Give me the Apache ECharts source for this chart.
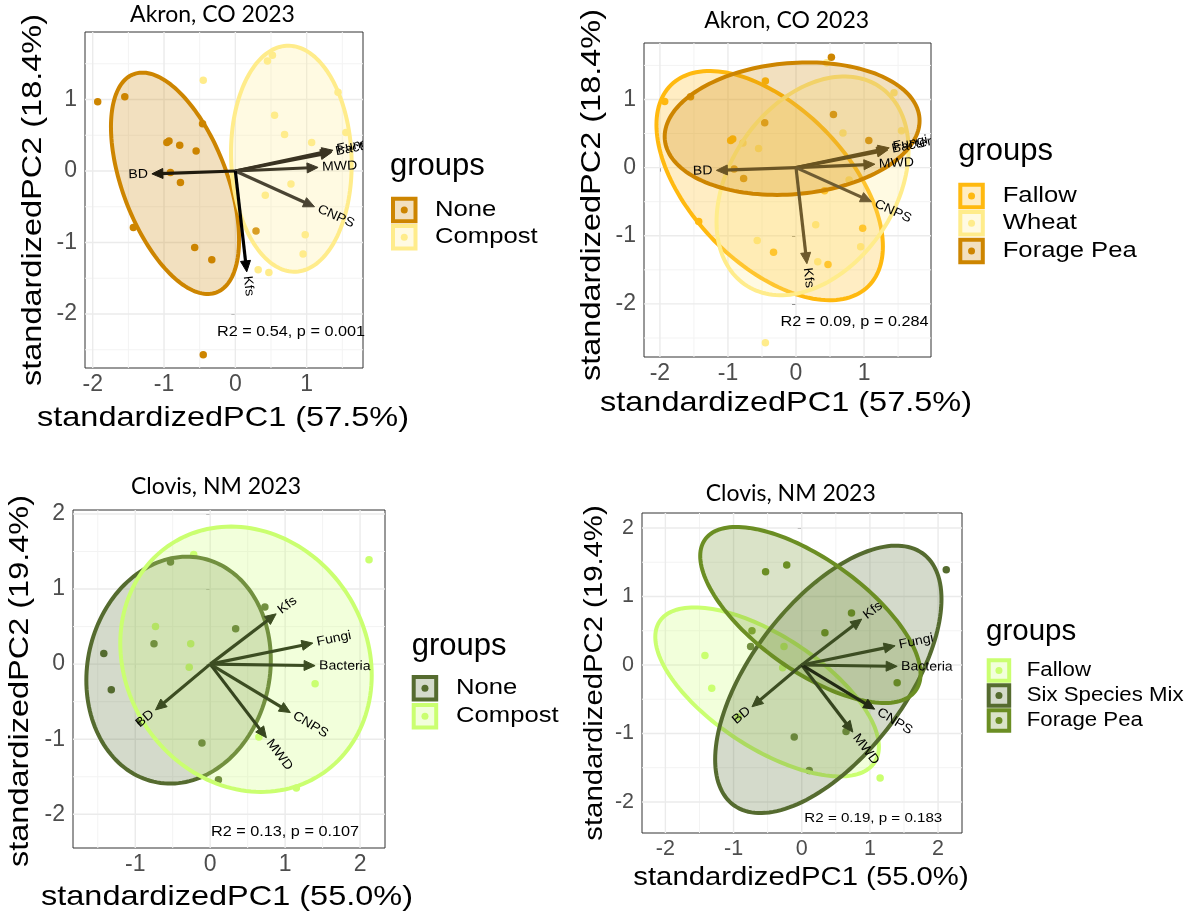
<!DOCTYPE html>
<html><head><meta charset="utf-8">
<script src="https://cdn.jsdelivr.net/npm/echarts@6/dist/echarts.min.js"></script>
<style>html,body{margin:0;padding:0;background:#fff}#chart{width:1199px;height:919px}</style>
</head><body><div id="chart"></div>
<script>
// ---------------- data ----------------
const akronPC1 = [-1.93,-1.55,-0.45,0.45,0.52,1.44,0.55,0.69,1.07,1.55,0.78,0.42,0.98,0.95,0.32,0.47,-0.46,-0.96,-0.93,-0.78,-0.55,-0.91,-0.77,-1.43,-0.57,-0.33,-0.45,0.29];
const akronPC2 = [0.97,1.04,1.27,1.54,1.62,1.10,0.78,0.51,0.40,0.54,-0.18,-0.34,-0.89,-1.16,-1.38,-1.42,0.66,0.40,0.42,0.36,0.28,-0.02,-0.16,-0.79,-1.07,-1.24,-2.57,-0.84];
const akronAmend = ['None','None','Compost','Compost','Compost','Compost','Compost','Compost','Compost','Compost','Compost','Compost','Compost','Compost','Compost','Compost','None','None','None','None','None','None','None','None','None','None','None','None'];
const akronCrop = ['Fallow','Forage Pea','Fallow','Wheat','Forage Pea','Wheat','Forage Pea','Wheat','Forage Pea','Wheat','Wheat','Fallow','Fallow','Wheat','Wheat','Fallow','Forage Pea','Fallow','Fallow','Wheat','Wheat','Forage Pea','Forage Pea','Fallow','Wheat','Fallow','Wheat','Wheat'];

const clovisPC1 = [-1.42,-1.32,-0.53,-0.75,0.34,0.73,-0.11,-0.93,0.11,-0.22,2.12,-0.73,-0.26,-0.28,1.40,0.65,1.15];
const clovisPC2 = [0.14,-0.34,1.36,0.27,0.47,0.76,-1.05,-0.76,-1.54,1.46,1.39,0.50,0.27,-0.04,-0.26,-0.97,-1.65];
const clovisAmend = ['None','None','None','None','None','None','None','None','None','Compost','Compost','Compost','Compost','Compost','Compost','Compost','Compost'];
const clovisCrop = ['Fallow','Fallow','Forage Pea','Six Species Mix','Forage Pea','Forage Pea','Six Species Mix','Fallow','Six Species Mix','Forage Pea','Six Species Mix','Forage Pea','Fallow','Fallow','Forage Pea','Six Species Mix','Fallow'];

// ellipse parameters: [centre PC1, centre PC2, half-width, half-height, correlation]
const akronAmendGroups = ['None','Compost'];
const akronAmendEllipses = [[-0.846,-0.172,0.898,1.548,-0.51],[0.785,0.172,0.846,1.58,-0.05]];
const akronCropGroups = ['Fallow','Wheat','Forage Pea'];
const akronCropEllipses = [[-0.387,-0.264,1.664,1.682,-0.53],[0.243,-0.267,1.411,1.605,0.33],[-0.057,0.572,1.873,0.972,0.12]];
const clovisAmendGroups = ['None','Compost'];
const clovisAmendEllipses = [[-0.422,-0.08,1.231,1.511,0.09],[0.478,0.065,1.678,1.767,-0.12]];
const clovisCropGroups = ['Fallow','Six Species Mix','Forage Pea'];
const clovisCropEllipses = [[-0.508,-0.393,1.64,1.234,-0.65],[0.39,-0.21,1.66,1.952,0.6],[0.127,0.73,1.616,1.285,-0.67]];

// loadings
const loadVars = ['BD','Bacteria','Fungi','MWD','CNPS','Kfs'];
const akronLoadPC1 = [-1.17,1.35,1.37,1.16,1.11,0.16];
const akronLoadPC2 = [-0.04,0.26,0.29,0.05,-0.50,-1.41];
const clovisLoadPC1 = [-0.73,1.40,1.37,0.75,1.07,0.88];
const clovisLoadPC2 = [-0.61,-0.02,0.28,-0.98,-0.645,0.67];

// ticks and breaks
const akronXTicks = [-2,-1,0,1];
const akronYTicks = [-2,-1,0,1];
const clovisXTicksL = [-1,0,1,2];
const clovisXTicksR = [-2,-1,0,1,2];
const clovisYTicks = [-2,-1,0,1,2];
const minorAkronX = [-1.5,-0.5,0.5,1.5];
const minorAkronY = [-2.5,-1.5,-0.5,0.5,1.5];
const minorClovisXL = [-1.5,-0.5,0.5,1.5];
const minorClovisXR = [-1.5,-0.5,0.5,1.5];
const minorClovisY = [-1.5,-0.5,0.5,1.5];

const panelTitles = ['Akron, CO 2023','Akron, CO 2023','Clovis, NM 2023','Clovis, NM 2023'];
const xTitles = ['standardizedPC1 (57.5%)','standardizedPC1 (57.5%)','standardizedPC1 (55.0%)','standardizedPC1 (55.0%)'];
const yTitles = ['standardizedPC2 (18.4%)','standardizedPC2 (18.4%)','standardizedPC2 (19.4%)','standardizedPC2 (19.4%)'];
const statLabels = ['R2 = 0.54, p = 0.001','R2 = 0.09, p = 0.284','R2 = 0.13, p = 0.107','R2 = 0.19, p = 0.183'];

// ---------------- styles ----------------
const COL = {
  ak: {'None':'#CD8500','Compost':'#FFEC8B','Fallow':'#FFB90F','Wheat':'#FFEC8B','Forage Pea':'#CD8500'},
  cl: {'None':'#556B2F','Compost':'#CAFF70','Fallow':'#CAFF70','Six Species Mix':'#556B2F','Forage Pea':'#6B8E23'}
};
const arrowCols = [
  ['#1f1a0e','#3a3322','#3a3322','#3f3928','#4a4433','#000000'],
  ['#6b5525','#69531f','#69531f','#6a5523','#6e5c33','#6e5a2c'],
  ['#3c4d22','#3c4d22','#3c4d22','#36451f','#3c4d22','#3c4d22'],
  ['#3c4d22','#3c4d22','#3c4d22','#36451f','#222a14','#3c4d22']
];
const FONT = "'Liberation Sans', Arial, sans-serif";
const grids = [
  {left:85, top:32, width:278, height:336},
  {left:644, top:43, width:287, height:314},
  {left:73, top:510, width:312, height:338},
  {left:642, top:513, width:320, height:320}
];
const ranges = [
  {x:[-2.108,1.79], y:[-2.755,1.944]},
  {x:[-2.234,1.984], y:[-2.779,1.829]},
  {x:[-1.831,2.333], y:[-2.449,2.053]},
  {x:[-2.343,2.351], y:[-2.453,2.219]}
];

function rgba(hex, a){
  const n = parseInt(hex.slice(1),16);
  return 'rgba('+((n>>16)&255)+','+((n>>8)&255)+','+(n&255)+','+a+')';
}

const series = [];

function gridLines(gi, xMaj, xMin, yMaj, yMin){
  const data = [];
  xMin.forEach(v=>data.push([v,0,0]));
  yMin.forEach(v=>data.push([v,1,0]));
  xMaj.forEach(v=>data.push([v,0,1]));
  yMaj.forEach(v=>data.push([v,1,1]));
  series.push({
    type:'custom', xAxisIndex:gi, yAxisIndex:gi, z:1, silent:true, data:data,
    renderItem:function(p, api){
      const cs = p.coordSys;
      const v = api.value(0), dir = api.value(1), maj = api.value(2);
      let shape;
      if (dir === 0) { const x = api.coord([v, 0])[0]; shape = {x1:x, y1:cs.y, x2:x, y2:cs.y+cs.height}; }
      else { const y = api.coord([0, v])[1]; shape = {x1:cs.x, y1:y, x2:cs.x+cs.width, y2:y}; }
      return {type:'line', shape:shape, style:{stroke: maj ? '#EBEBEB' : '#F3F3F3', lineWidth: maj ? 1.4 : 1}};
    }
  });
}

function points(gi, xs, ys, groups, grpNames, colMap){
  grpNames.forEach(g=>{
    const d = [];
    xs.forEach((x,i)=>{ if (groups[i] === g) d.push([x, ys[i]]); });
    series.push({type:'scatter', xAxisIndex:gi, yAxisIndex:gi, z:2, symbolSize:7.5, silent:true,
      itemStyle:{color:colMap[g], opacity:1}, data:d});
  });
}

function ellipses(gi, grpNames, params, colMap){
  grpNames.forEach((g,k)=>{
    series.push({
      type:'custom', xAxisIndex:gi, yAxisIndex:gi, z:3, clip:true, silent:true,
      data:[params[k]],
      renderItem:function(p, api){
        const cx = api.value(0), cy = api.value(1), w = api.value(2), h = api.value(3), r = api.value(4);
        const s = Math.sqrt(1 - r*r);
        const pts = [];
        for (let i = 0; i < 160; i++) {
          const t = i / 160 * Math.PI * 2;
          pts.push(api.coord([cx + w*Math.cos(t), cy + h*(r*Math.cos(t) + s*Math.sin(t))]));
        }
        return {type:'polygon', shape:{points:pts}, style:{fill:rgba(colMap[g],0.25), stroke:colMap[g], lineWidth:4}};
      }
    });
  });
}

function arrows(gi, lx, ly, cols){
  series.push({
    type:'custom', xAxisIndex:gi, yAxisIndex:gi, z:5, clip:true, silent:true,
    data: loadVars.map((n,i)=>[lx[i], ly[i], i]),
    renderItem:function(p, api){
      const i = api.value(2);
      const o = api.coord([0,0]), e = api.coord([api.value(0), api.value(1)]);
      const dx = e[0]-o[0], dy = e[1]-o[1], L = Math.hypot(dx,dy);
      const ux = dx/L, uy = dy/L;
      const hl = 11, hw = 5;
      const bx = e[0]-ux*hl, by = e[1]-uy*hl;
      const col = cols[i];
      const rot = Math.atan(-dy/dx);
      const gap = 4;
      return {type:'group', children:[
        {type:'line', shape:{x1:o[0], y1:o[1], x2:bx+ux*3, y2:by+uy*3}, style:{stroke:col, lineWidth:3.2, lineCap:'butt'}},
        {type:'polygon', shape:{points:[[e[0],e[1]],[bx-uy*hw, by+ux*hw],[bx+uy*hw, by-ux*hw]]}, style:{fill:col, stroke:col, lineWidth:1}},
        {type:'text', x:e[0]+ux*gap, y:e[1]+uy*gap, rotation:rot, scaleX:1.08,
          style:{text:loadVars[i], fill:'#000', font:'13px '+FONT, align: dx >= 0 ? 'left' : 'right', verticalAlign:'middle'}}
      ]};
    }
  });
}

// panel 1
gridLines(0, akronXTicks, minorAkronX, akronYTicks, minorAkronY);
points(0, akronPC1, akronPC2, akronAmend, akronAmendGroups, COL.ak);
ellipses(0, akronAmendGroups, akronAmendEllipses, COL.ak);
arrows(0, akronLoadPC1, akronLoadPC2, arrowCols[0]);
// panel 2
gridLines(1, akronXTicks, minorAkronX, akronYTicks, minorAkronY);
points(1, akronPC1, akronPC2, akronCrop, akronCropGroups, COL.ak);
ellipses(1, akronCropGroups, akronCropEllipses, COL.ak);
arrows(1, akronLoadPC1, akronLoadPC2, arrowCols[1]);
// panel 3
gridLines(2, clovisXTicksL, minorClovisXL, clovisYTicks, minorClovisY);
points(2, clovisPC1, clovisPC2, clovisAmend, clovisAmendGroups, COL.cl);
ellipses(2, clovisAmendGroups, clovisAmendEllipses, COL.cl);
arrows(2, clovisLoadPC1, clovisLoadPC2, arrowCols[2]);
// panel 4
gridLines(3, clovisXTicksR, minorClovisXR, clovisYTicks, minorClovisY);
points(3, clovisPC1, clovisPC2, clovisCrop, clovisCropGroups, COL.cl);
ellipses(3, clovisCropGroups, clovisCropEllipses, COL.cl);
arrows(3, clovisLoadPC1, clovisLoadPC2, arrowCols[3]);

const xTickSets = [akronXTicks, akronXTicks, clovisXTicksL, clovisXTicksR];
const yTickSets = [akronYTicks, akronYTicks, clovisYTicks, clovisYTicks];
const tickFont = [23, 23, 23, 21.5];

const xAxes = ranges.map((r,i)=>({
  gridIndex:i, type:'value', min:r.x[0], max:r.x[1],
  axisLine:{show:false},
  axisTick:{show:true, length:4, lineStyle:{color:'#333333', width:1}, customValues:xTickSets[i]},
  axisLabel:{show:true, customValues:xTickSets[i], color:'#4D4D4D', fontSize:tickFont[i], fontFamily:FONT, margin:5},
  splitLine:{show:false}
}));
const yAxes = ranges.map((r,i)=>({
  gridIndex:i, type:'value', min:r.y[0], max:r.y[1],
  axisLine:{show:false},
  axisTick:{show:true, length:4, lineStyle:{color:'#333333', width:1}, customValues:yTickSets[i]},
  axisLabel:{show:true, customValues:yTickSets[i], color:'#4D4D4D', fontSize:tickFont[i], fontFamily:FONT, margin:8},
  splitLine:{show:false}
}));

// ---------------- text / legend graphics ----------------
const graphic = [];
const titlePos = [[212.5,15],[786.7,20.7],[216,486.7],[790.7,493.3]];
const xTitlePos = [[223,418],[786,403],[227,897],[801,878]];
const yTitlePos = [[33,200],[592,195],[20,681],[595,673]];
const axisTitleFont = [28.5, 28.5, 28.5, 25.7];
const statPos = [[291,331.7],[854.5,321.7],[285,831.7],[873.3,818.3]];
const statSize = [14.5,14.5,14.5,13.5];
const SX = 1.14;
for (let i = 0; i < 4; i++) {
  graphic.push({type:'text', x:titlePos[i][0], y:titlePos[i][1], style:{text:panelTitles[i], font:'23px Lato', fill:'#000', align:'center', verticalAlign:'middle'}});
  graphic.push({type:'text', x:xTitlePos[i][0], y:xTitlePos[i][1], scaleX:SX, style:{text:xTitles[i], font:axisTitleFont[i]+'px '+FONT, fill:'#000', align:'center', verticalAlign:'middle'}});
  graphic.push({type:'text', x:yTitlePos[i][0], y:yTitlePos[i][1], rotation:Math.PI/2, scaleX:SX, style:{text:yTitles[i], font:axisTitleFont[i]+'px '+FONT, fill:'#000', align:'center', verticalAlign:'middle'}});
  graphic.push({type:'text', x:statPos[i][0], y:statPos[i][1], z:100, scaleX:1.12, style:{text:statLabels[i], font:statSize[i]+'px '+FONT, fill:'#000', align:'center', verticalAlign:'middle'}});
}
const legends = [
  {names:akronAmendGroups, cols:COL.ak, title:[390,166.7], keyX:391, keyY:[196.7,224], size:26.5, textX:435, fs:22.5, tf:31},
  {names:akronCropGroups, cols:COL.ak, title:[958.3,151.7], keyX:958.3, keyY:[182.7,210,237.7], size:26.5, textX:1002.7, fs:22.5, tf:31},
  {names:clovisAmendGroups, cols:COL.cl, title:[411.7,646.7], keyX:411.7, keyY:[675,703], size:26.5, textX:456, fs:22.5, tf:31},
  {names:clovisCropGroups, cols:COL.cl, title:[986,631.7], keyX:986.7, keyY:[658.3,683.3,708.3], size:24.5, textX:1026.7, fs:19.5, tf:29.5}
];
legends.forEach(L=>{
  graphic.push({type:'text', x:L.title[0], y:L.title[1], style:{text:'groups', font:L.tf+'px '+FONT, fill:'#000', align:'left', verticalAlign:'middle'}});
  L.names.forEach((n,k)=>{
    const c = L.cols[n], y0 = L.keyY[k], s = L.size;
    graphic.push({type:'rect', x:L.keyX+2, y:y0+2, shape:{width:s-4, height:s-4}, style:{fill:rgba(c,0.25), stroke:c, lineWidth:4}});
    graphic.push({type:'circle', x:L.keyX+s/2, y:y0+s/2, shape:{r:3.5}, style:{fill:c}});
    graphic.push({type:'text', x:L.textX, y:y0+s/2, scaleX:SX, style:{text:n, font:L.fs+'px '+FONT, fill:'#000', align:'left', verticalAlign:'middle'}});
  });
});

const chart = echarts.init(document.getElementById('chart'), null, {renderer:'canvas'});
chart.setOption({
  animation:false,
  backgroundColor:'#ffffff',
  grid: grids.map(g=>Object.assign({show:true, borderColor:'#333333', borderWidth:1, backgroundColor:'transparent', containLabel:false}, g)),
  xAxis: xAxes,
  yAxis: yAxes,
  series: series,
  graphic: graphic
});
</script>
</body></html>
